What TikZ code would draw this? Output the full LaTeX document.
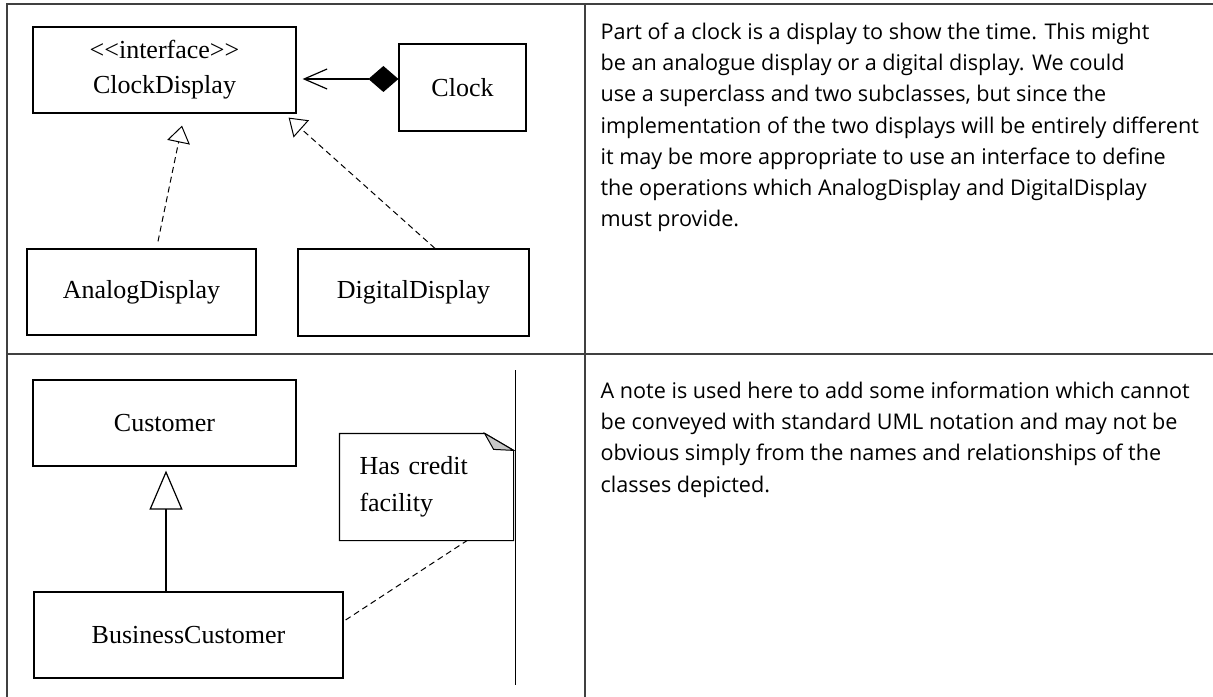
\documentclass[tikz,border=0pt]{standalone}
\usepackage{fontspec}
\setmainfont{Liberation Serif}
\newfontfamily\descfamily{Open Sans}
\usetikzlibrary{arrows.meta,positioning}

\begin{document}
\begin{tikzpicture}[x=1bp,y=-1bp,line width=1.2bp]
    \tikzstyle{umlclass}=[draw,rectangle,inner sep=0pt,align=center,font=\fontsize{26bp}{35bp}\selectfont];
    \tikzstyle{umlnote}=[rectangle,inner sep=0pt,align=left,text width=134bp,font=\fontsize{26bp}{37bp}\selectfont];
    \tikzstyle{realize}=[line width=1bp,dash pattern=on 6bp off 4bp,-{Triangle[open,length=17bp,width=23bp]}];
    \tikzstyle{inherit}=[-{Triangle[open,length=39bp,width=33bp]}];
    \tikzstyle{compose}=[{Diamond[length=30bp,width=26bp]}-{Straight Barb[length=23bp,width=20bp]}];
    \tikzstyle{grid}=[line width=1.4bp,black!75];
    \tikzstyle{desc}=[inner sep=0pt,align=left,anchor=north west,font=\descfamily\fontsize{21.6bp}{31.3bp}\selectfont];
    \useasboundingbox (0,0) rectangle (1213,697);

    % table frame
    \draw[grid] (7,697) -- (7,4) -- (1213,4);
    \draw[grid] (7,354) -- (1213,354);
    \draw[grid] (585,4) -- (585,697);

    % interface example
    \node at (164.5, 70)  (cd)  [umlclass,minimum width=263bp,minimum height=86bp] {<\kern0pt<interface>\kern0pt>\\ClockDisplay};
    \node at (462.5, 87.5) (clk) [umlclass,minimum width=127bp,minimum height=87bp] {Clock};
    \node at (141.5, 292) (ad)  [umlclass,minimum width=229bp,minimum height=86bp] {AnalogDisplay};
    \node at (413.5, 292.5) (dd) [umlclass,minimum width=231bp,minimum height=87bp] {DigitalDisplay};

    \draw[compose,shorten >=6bp] ([yshift=8.5bp]clk.west) -- ([yshift=8.5bp]clk.west -| cd.east);
    \draw[realize] ([xshift=16.5bp,yshift=7bp]ad.north) -- ([xshift=17.5bp,yshift=-12bp]cd.south);
    \draw[realize] ([xshift=21.5bp]dd.north) -- ([xshift=-8bp,yshift=-4bp]cd.south east);

    % note example
    \node at (164.5, 423) (cu) [umlclass,minimum width=263bp,minimum height=86bp] {Customer};
    \node at (188.5, 635) (bc) [umlclass,minimum width=309bp,minimum height=86bp] {BusinessCustomer};
    \node at (426.5, 487) (note) [umlnote,minimum width=173bp,minimum height=106bp] {Has credit\\facility};

    \draw (note.south west) -- (note.north west) -- ([xshift=-29bp]note.north east)
      -- ([yshift=-17bp]note.north east) -- (note.south east) -- cycle;
    \filldraw[line width=1bp,fill=black!22] ([xshift=-29bp]note.north east) .. controls ([xshift=-24bp,yshift=-8bp]note.north east) .. ([xshift=-20bp,yshift=-16bp]note.north east)
      -- ([yshift=-17bp]note.north east) -- cycle;

    \draw[inherit] ([xshift=-22.5bp]bc.north) -- ([xshift=-22.5bp,yshift=-4bp]bc.north |- cu.south);
    \draw[line width=1bp,dash pattern=on 6bp off 4bp] ([xshift=2bp,yshift=15bp]bc.east) -- ([xshift=40.5bp]note.south);
    \draw[line width=1bp] (515,370) -- (515,685);

    % descriptions
    \node at (600, 22)  (txtA) [desc] {Part of a clock is a display to show the time. This might\\
      be an analogue display or a digital display. We could\\
      use a superclass and two subclasses, but since the\\
      implementation of the two displays will be entirely different\\
      it may be more appropriate to use an interface to define\\
      the operations which AnalogDisplay and DigitalDisplay\\
      must provide.};
    \node at (600, 381) (txtB) [desc] {A note is used here to add some information which cannot\\
      be conveyed with standard UML notation and may not be\\
      obvious simply from the names and relationships of the\\
      classes depicted.};
\end{tikzpicture}
\end{document}
